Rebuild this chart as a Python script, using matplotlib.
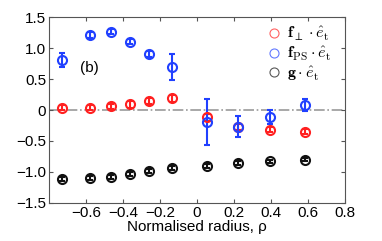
import numpy as np
import matplotlib
matplotlib.use("Agg")
import matplotlib.pyplot as plt

plt.rcParams['font.family'] = ['Liberation Sans', 'DejaVu Sans']
plt.rcParams['mathtext.fontset'] = 'cm'

# normalised radius of each measurement
rho = [-0.73, -0.58, -0.465, -0.36, -0.26, -0.135, 0.055, 0.22, 0.395, 0.584]

# f_perp . e_t
f_perp = [0.04, 0.04, 0.06, 0.09, 0.14, 0.19, -0.12, -0.27, -0.32, -0.35]
f_perp_err = [0.04, 0.04, 0.04, 0.05, 0.05, 0.06, 0.05, 0.05, 0.04, 0.04]

# f_PS . e_t
f_ps = [0.81, 1.21, 1.26, 1.10, 0.90, 0.69, -0.19, -0.27, -0.11, 0.08]
f_ps_err = [0.11, 0.05, 0.04, 0.04, 0.05, 0.21, 0.37, 0.17, 0.11, 0.10]

# g . e_t
g = [-1.11, -1.10, -1.08, -1.03, -0.99, -0.94, -0.90, -0.86, -0.83, -0.80]
g_err = [0.03, 0.03, 0.03, 0.03, 0.03, 0.03, 0.03, 0.03, 0.03, 0.03]

xticks = [-0.6, -0.4, -0.2, 0, 0.2, 0.4, 0.6, 0.8]
xticklabels = ["\u22120.6", "\u22120.4", "\u22120.2", "0", "0.2", "0.4", "0.6", "0.8"]
yticks = [-1.5, -1.0, -0.5, 0, 0.5, 1.0, 1.5]
yticklabels = ["\u22121.5", "\u22121.0", "\u22120.5", "0", "0.5", "1.0", "1.5"]

fig = plt.figure(figsize=[3.82, 2.41], dpi=100)
ax = fig.add_axes([0.128, 0.158, 0.775, 0.771])

ax.axhline(0, color="#999999", linestyle="-.", linewidth=1.2, zorder=1)

series = [
    dict(y=f_perp, err=f_perp_err, color="#ff2020",
         label=r"$\mathbf{f}_{\perp}\cdot\hat{e}_{\mathrm{t}}$"),
    dict(y=f_ps, err=f_ps_err, color="#2040ff",
         label=r"$\mathbf{f}_{\mathrm{PS}}\cdot\hat{e}_{\mathrm{t}}$"),
    dict(y=g, err=g_err, color="#111111",
         label=r"$\mathbf{g}\cdot\hat{e}_{\mathrm{t}}$"),
]

handles = []
for s in series:
    ax.errorbar(rho, s["y"], yerr=s["err"], fmt="o", mfc="none", mec=s["color"],
                ms=6.5, mew=1.5, color=s["color"], ecolor=s["color"],
                elinewidth=1.5, capsize=2.5, capthick=1.5, zorder=3)
    h, = ax.plot([], [], "o", mfc="none", mec=s["color"], ms=6.5, mew=0.8,
                 alpha=0.7, label=s["label"])
    handles.append(h)

ax.text(-0.63, 0.62, "(b)", fontsize=11)

ax.set_xlim(-0.8, 0.8)
ax.set_ylim(-1.5, 1.5)
ax.set_xticks(xticks)
ax.set_xticklabels(xticklabels)
ax.set_yticks(yticks)
ax.set_yticklabels(yticklabels)
ax.tick_params(direction="in", top=True, right=True, labelsize=11, length=3,
               color="#555555", pad=2)
for sp in ax.spines.values():
    sp.set_color("#555555")
ax.set_xlabel("Normalised radius, \u03c1", fontsize=11, labelpad=0)

ax.legend(handles=handles, loc="upper right", frameon=False, fontsize=11.5,
          handletextpad=0.3, labelspacing=0.1, borderaxespad=0.1,
          handlelength=1.0, bbox_to_anchor=(0.98, 1.0))

plt.savefig("out.png", dpi=100)
